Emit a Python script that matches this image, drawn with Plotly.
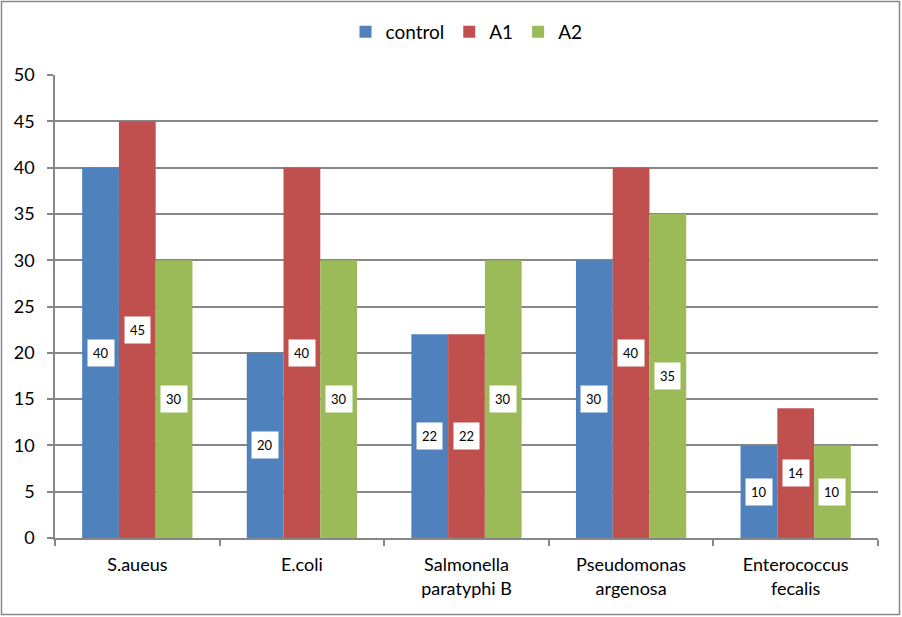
import plotly.graph_objects as go

categories = ["S.aueus", "E.coli", "Salmonella<br>paratyphi B", "Pseudomonas<br>argenosa", "Enterococcus<br>fecalis"]
control = [40, 20, 22, 30, 10]
a1 = [45, 40, 22, 40, 14]
a2 = [30, 30, 30, 35, 10]
series = [("control", control, "#4F81BD"), ("A1", a1, "#C0504D"), ("A2", a2, "#9BBB59")]

W, H = 902, 617
ml, mr, mt, mb = 55, 24, 75, 79
FONT = "Lato, Carlito, sans-serif"

fig = go.Figure()
for name, vals, col in series:
    fig.add_trace(go.Bar(name=name, x=categories, y=vals, marker=dict(color=col, line=dict(width=0))))

plot_w = W - ml - mr
cat_w = plot_w / len(categories)
bargap = 0.33
bar_w = cat_w * (1 - bargap) / len(series)
for si, (name, vals, col) in enumerate(series):
    shift = (si - (len(series) - 1) / 2) * bar_w
    for c, v in zip(categories, vals):
        fig.add_annotation(x=c, y=v / 2, xref="x", yref="y", text=str(v), showarrow=False,
                           xshift=shift, bgcolor="white", borderpad=5,
                           font=dict(size=13, color="black", family=FONT))

# outer chart border
fig.add_shape(type="rect", xref="paper", yref="paper",
              x0=(1.5 - ml) / plot_w, x1=(W - 2.5 - ml) / plot_w,
              y0=-(mb - 2.5) / (H - mt - mb), y1=1 + (mt - 1.5) / (H - mt - mb),
              line=dict(color="#898989", width=1.5), fillcolor="rgba(0,0,0,0)", layer="below")

fig.update_layout(
    width=W, height=H,
    margin=dict(l=ml, r=mr, t=mt, b=mb),
    paper_bgcolor="white", plot_bgcolor="white",
    barmode="group", bargap=bargap, bargroupgap=0,
    font=dict(family=FONT, size=18, color="black"),
    legend=dict(orientation="h", x=0.5, xanchor="center", y=1 + 43 / (H - mt - mb), yanchor="middle",
                font=dict(size=19), itemwidth=30, traceorder="normal"),
    xaxis=dict(type="category", showline=True, linecolor="#878787", linewidth=1.5,
               ticks="outside", tickson="boundaries", ticklen=6, tickcolor="#878787", tickwidth=1.5,
               showgrid=False, tickfont=dict(size=18), ticklabelstandoff=10),
    yaxis=dict(range=[0, 50], dtick=5, showline=True, linecolor="#878787", linewidth=1.5,
               ticks="outside", ticklen=6, tickcolor="#878787", tickwidth=1.5,
               showgrid=True, gridcolor="#878787", gridwidth=1.5, zeroline=False,
               tickfont=dict(size=18), ticklabelstandoff=9),
)

fig.write_html("out.html", config={"displayModeBar": False},
               post_script="document.body.style.margin='0';document.body.style.overflow='hidden';")
